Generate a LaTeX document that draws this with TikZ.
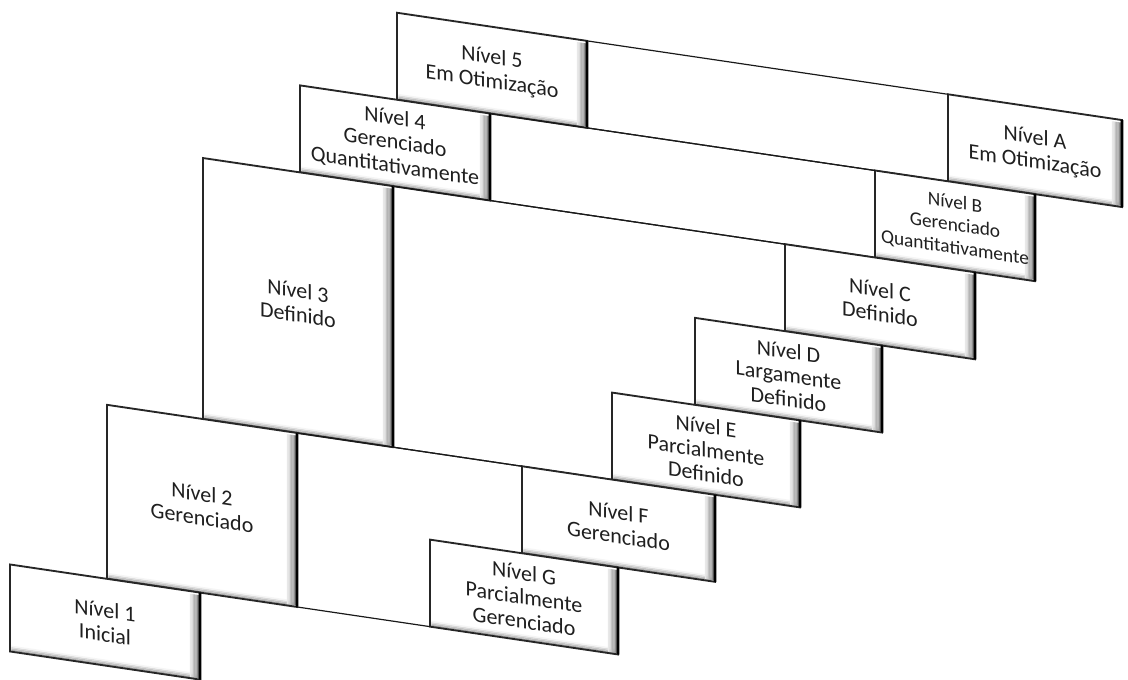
\documentclass[tikz,border=0pt]{standalone}
\usepackage{fontspec}
\setmainfont{Carlito}
\tikzset{
 lvl/.style={draw=black!85, line width=1.4pt, fill=white, inner sep=0pt, outer sep=0pt,
   align=center, font=\fontsize{16.5}{18}\selectfont, text=black!88,
   path picture={
     \foreach \j [evaluate=\j as \c using 44-10*\j] in {1,...,4}
       \draw[black!\c, line width=1.05pt]
         ([xshift=1pt,yshift=\j pt]path picture bounding box.south west) --
         ([xshift=-2pt,yshift=\j pt]path picture bounding box.south east);
     \foreach \i [evaluate=\i as \c using 58-7*\i] in {1,...,7}
       \draw[black!\c, line width=1.05pt]
         ([xshift=-\i pt,yshift=-2pt]path picture bounding box.north east) --
         ([xshift=-\i pt,yshift=1pt]path picture bounding box.south east);
   }},
 small/.style={font=\fontsize{14.5}{17}\selectfont},
 redge/.style={line width=2.2pt, black},
 band/.style={line width=0.9pt, black!90},
}
\newcommand\lvbox[7][]{%
  \node[lvl, #1, minimum width={(#4-#3)*0.75pt}, minimum height={(#6-#5)*0.75pt}]
    (#2) at ({(#3+#4)/2},{(#5+#6)/2}) {#7};
  \draw[redge] (#2.north east) -- (#2.south east);
}
\begin{document}
\begin{tikzpicture}[x=0.75pt,y=-0.75pt]
\useasboundingbox (0,0) rectangle (1128,680);
\fill[white] (0,0) rectangle (1128,680);
\begin{scope}[transform canvas={yslant=-0.148}]
  % level 5
  \lvbox{n5}{397}{587}{-46}{41}{Nível 5\\Em Otimização}
  \lvbox{nA}{948}{1122}{-46}{41}{Nível A\\Em Otimização}
  \draw[band] (n5.north east) -- (nA.north west);
  \draw[band] (n5.south east) -- (nA.south west);
  % level 4
  \lvbox{n4}{300}{490}{41}{128}{Nível 4\\Gerenciado\\Quantitativamente}
  \lvbox[small]{nB}{875}{1035}{41}{128}{Nível B\\Gerenciado\\Quantitativamente}
  \draw[band] (n4.north east) -- (nB.north west);
  \draw[band] (n4.south east) -- (nB.south west);
  % level 3
  \lvbox{n3}{203}{393}{128}{389}{Nível 3\\Definido}
  \lvbox{nC}{785}{975}{128}{215}{Nível C\\Definido}
  \lvbox{nD}{695}{882}{215}{302}{Nível D\\Largamente\\Definido}
  \lvbox{nE}{612}{800}{302}{389}{Nível E\\Parcialmente\\Definido}
  \draw[band] (n3.north east) -- (nC.north west);
  \draw[band] (n3.south east) -- (nE.south west);
  % level 2
  \lvbox{n2}{107}{297}{389}{563}{Nível 2\\Gerenciado}
  \lvbox{nF}{522}{715}{389}{476}{Nível F\\Gerenciado}
  \lvbox{nG}{430}{618}{476}{563}{Nível G\\Parcialmente\\Gerenciado}
  \draw[band] (n2.north east) -- (nF.north west);
  \draw[band] (n2.south east) -- (nG.south west);
  % level 1
  \lvbox{n1}{10}{200}{563}{650}{Nível 1\\Inicial}
\end{scope}
\end{tikzpicture}
\end{document}
